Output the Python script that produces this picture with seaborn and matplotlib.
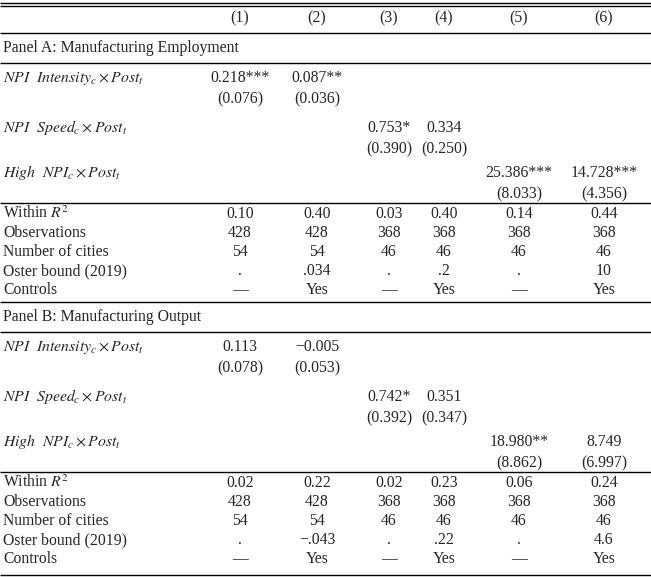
import numpy as np
import pandas as pd
import matplotlib
matplotlib.use('Agg')
import matplotlib.pyplot as plt
import seaborn as sns

# Table contents
columns = ['(1)', '(2)', '(3)', '(4)', '(5)', '(6)']
row_labels = [r'$\mathit{NPI\ \ Intensity}_c \times \mathit{Post}_t$',
              r'$\mathit{NPI\ \ Speed}_c \times \mathit{Post}_t$',
              r'$\mathit{High\ \ NPI}_c \times \mathit{Post}_t$']
stat_labels = [r'Within $\mathit{R}^2$', 'Observations', 'Number of cities',
               'Oster bound (2019)', 'Controls']

panel_a_title = 'Panel A: Manufacturing Employment'
panel_a_coef = [['0.218***', '0.087**', '', '', '', ''],
                ['', '', '0.753*', '0.334', '', ''],
                ['', '', '', '', '25.386***', '14.728***']]
panel_a_se = [['(0.076)', '(0.036)', '', '', '', ''],
              ['', '', '(0.390)', '(0.250)', '', ''],
              ['', '', '', '', '(8.033)', '(4.356)']]
panel_a_r2 = ['0.10', '0.40', '0.03', '0.40', '0.14', '0.44']

panel_b_title = 'Panel B: Manufacturing Output'
panel_b_coef = [['0.113', '\u22120.005', '', '', '', ''],
                ['', '', '0.742*', '0.351', '', ''],
                ['', '', '', '', '18.980**', '8.749']]
panel_b_se = [['(0.078)', '(0.053)', '', '', '', ''],
              ['', '', '(0.392)', '(0.347)', '', ''],
              ['', '', '', '', '(8.862)', '(6.997)']]
panel_b_r2 = ['0.02', '0.22', '0.02', '0.23', '0.06', '0.24']

observations = ['428', '428', '368', '368', '368', '368']
n_cities = ['54', '54', '46', '46', '46', '46']
oster_a = ['.', '.034', '.', '.2', '.', '10']
oster_b = ['.', '\u2212.043', '.', '.22', '.', '4.6']
controls = ['\u2014', 'Yes', '\u2014', 'Yes', '\u2014', 'Yes']

# Style
sns.set_theme(style='white')
plt.rcParams['font.family'] = ['Liberation Serif', 'DejaVu Serif']
plt.rcParams['mathtext.fontset'] = 'stix'

fig = plt.figure(figsize=(6.51, 5.77), dpi=100)
ax = fig.add_axes([0, 0, 1, 1])
ax.set_xlim(0, 651)
ax.set_ylim(577, 0)
ax.axis('off')

col_x = [240, 317, 389, 444, 519, 604]
fs = 11.3
base = 5  # baseline offset from row centre, in pixels

def hline(y, lw=1.0):
    ax.plot([0, 651], [y, y], color='black', lw=lw, solid_capstyle='butt')

def put(x, y, s, ha):
    ax.text(x, y + base, s, fontsize=fs, va='baseline', ha=ha)

def row(y, label, vals):
    if label:
        put(3, y, label, 'left')
    for x, v in zip(col_x, vals):
        if v:
            put(x, y, v, 'center')

# header
hline(2.5, 1.0)
hline(6, 1.0)
for x, c in zip(col_x, columns):
    put(x, 17, c, 'center')
hline(33)

def panel(y0, title, coef, se, r2, oster):
    put(3, y0, title, 'left')
    hline(y0 + 16)
    coef_y = [y0 + 30, y0 + 80, y0 + 125]
    for lab, cy, cv, sv in zip(row_labels, coef_y, coef, se):
        row(cy, lab, cv)
        row(cy + 21, None, sv)
    hline(y0 + 156)
    stats = [r2, observations, n_cities, oster, controls]
    for i, (lab, vals) in enumerate(zip(stat_labels, stats)):
        row(y0 + 166 + 19 * i, lab, vals)

panel(47, panel_a_title, panel_a_coef, panel_a_se, panel_a_r2, oster_a)
hline(302)
panel(316, panel_b_title, panel_b_coef, panel_b_se, panel_b_r2, oster_b)
hline(575)

fig.savefig('out.png', dpi=100)
